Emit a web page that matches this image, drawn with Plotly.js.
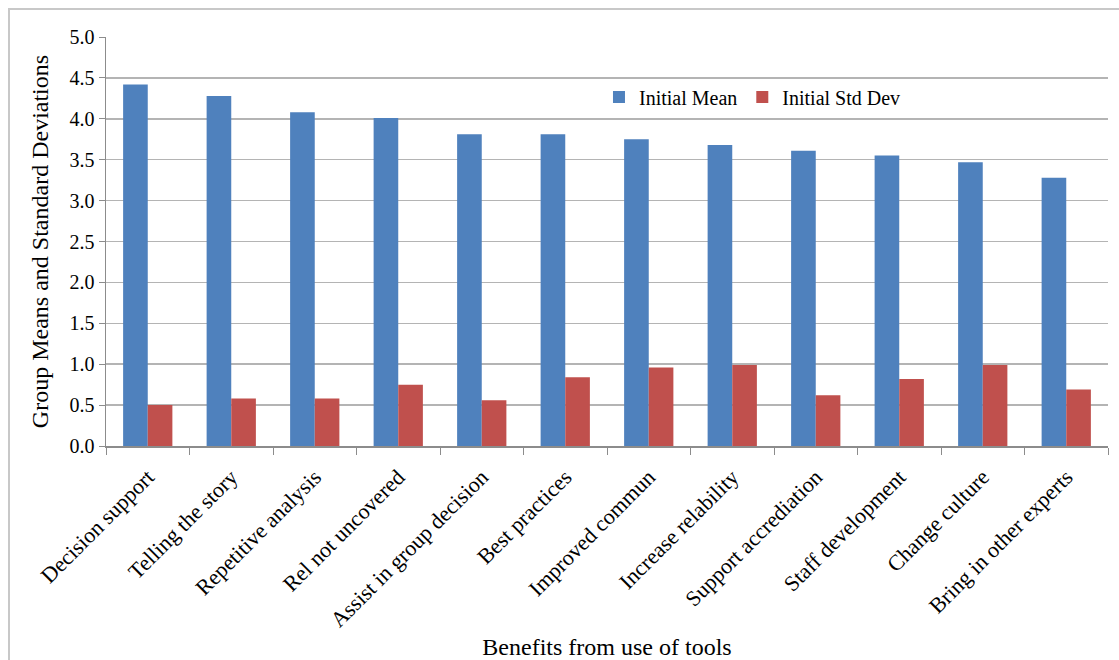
<!DOCTYPE html>
<html>
<head>
<meta charset="utf-8">
<script src="https://cdn.plot.ly/plotly-3.0.1.min.js"></script>
<style>
html,body{margin:0;padding:0;background:#fff;overflow:hidden;}
#wrap{position:relative;width:1119px;height:660px;}
#chart{position:absolute;left:0;top:0;width:1119px;height:660px;}
#frame{position:absolute;left:8px;top:8px;width:1200px;height:1000px;border:2px solid #c8c8c8;pointer-events:none;}
</style>
</head>
<body>
<div id="wrap"><div id="chart"></div><div id="frame"></div></div>
<script>
const categories = ["Decision support","Telling the story","Repetitive analysis","Rel not uncovered","Assist in group decision","Best practices","Improved commun","Increase relability","Support accrediation","Staff development","Change culture","Bring in other experts"];
const initialMean = [4.42,4.28,4.08,4.01,3.81,3.81,3.75,3.68,3.61,3.55,3.47,3.28];
const initialStdDev = [0.50,0.58,0.58,0.75,0.56,0.84,0.96,0.99,0.62,0.82,0.99,0.69];
const seriesNames = ["Initial Mean","Initial Std Dev"];
const yTitle = "Group Means and Standard Deviations";
const xTitle = "Benefits from use of tools";

const serif = "'Liberation Serif', 'Times New Roman', serif";
const traces = [
  {type:"bar", name:seriesNames[0], x:categories, y:initialMean, marker:{color:"#4F81BD"}},
  {type:"bar", name:seriesNames[1], x:categories, y:initialStdDev, marker:{color:"#C0504D"}}
];
const layout = {
  width:1119, height:660,
  margin:{l:106, r:11, t:37, b:214, autoexpand:false},
  paper_bgcolor:"rgba(0,0,0,0)", plot_bgcolor:"#fff",
  barmode:"group", bargap:0.41, bargroupgap:0,
  font:{family:serif, color:"#000"},
  showlegend:true,
  legend:{orientation:"h", x:0.492, y:0.853, xanchor:"left", yanchor:"middle",
          font:{family:serif, size:20, color:"#000"}, bgcolor:"rgba(0,0,0,0)",
          itemwidth:30, tracegroupgap:0},
  xaxis:{
    type:"category", tickangle:-45, tickfont:{family:serif, size:22, color:"#000"},
    ticklabelstandoff:8,
    showline:true, linecolor:"#8c8c8c", linewidth:1.5,
    ticks:"outside", ticklen:7, tickcolor:"#8c8c8c", tickson:"boundaries",
    showgrid:false, automargin:false,
    title:{text:xTitle, font:{family:serif, size:24, color:"#000"}, standoff:10}
  },
  yaxis:{
    range:[0,5], dtick:0.5, tick0:0, tickformat:".1f",
    tickfont:{family:serif, size:20, color:"#000"},
    showline:true, linecolor:"#8c8c8c", linewidth:1.5,
    ticks:"outside", ticklen:6, tickcolor:"#8c8c8c",
    showgrid:true, gridcolor:"#b4b4b4", gridwidth:1.5,
    zeroline:false, automargin:false,
    title:{text:yTitle, font:{family:serif, size:24, color:"#000"}, standoff:14}
  }
};
Plotly.newPlot("chart", traces, layout, {displayModeBar:false, staticPlot:true});
</script>
</body>
</html>
